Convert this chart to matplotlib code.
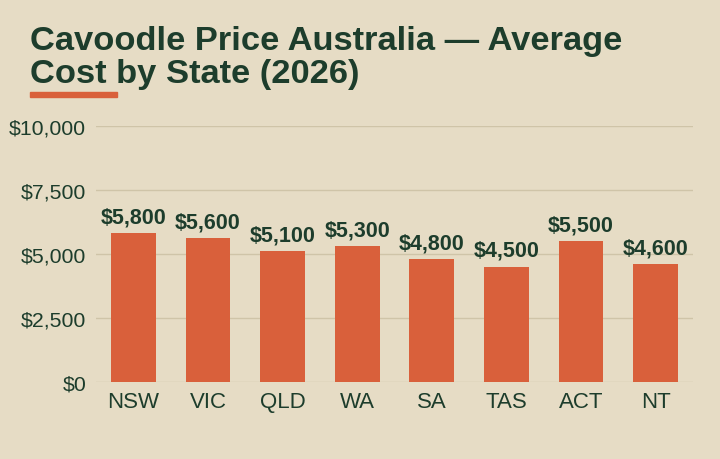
import matplotlib.pyplot as plt
from matplotlib.ticker import FuncFormatter

states = ['NSW', 'VIC', 'QLD', 'WA', 'SA', 'TAS', 'ACT', 'NT']
prices = [5800, 5600, 5100, 5300, 4800, 4500, 5500, 4600]
yticks = [0, 2500, 5000, 7500, 10000]

bg = '#e6dcc5'
green = '#1d3d2c'
orange = '#d9603b'
grid = '#cfc4a8'

plt.rcParams['font.family'] = ['Liberation Sans', 'DejaVu Sans']

fig = plt.figure(figsize=(7.2, 4.6), dpi=100, facecolor=bg)
ax = fig.add_axes([96 / 720, 1 - 382.5 / 460, 597 / 720, 255.5 / 460], facecolor=bg)

ax.bar(range(len(states)), prices, width=0.6, color=orange, zorder=3)
for i, v in enumerate(prices):
    ax.annotate('${:,}'.format(v), (i, v), xytext=(0, 4), textcoords='offset points',
                ha='center', va='bottom', fontsize=15.5, fontweight='bold', color=green)

ax.set_ylim(0, 10000)
ax.set_xlim(-0.5, 7.5)
ax.set_yticks(yticks)
ax.yaxis.set_major_formatter(FuncFormatter(lambda v, p: '${:,.0f}'.format(v)))
ax.set_xticks(range(len(states)))
ax.set_xticklabels(states)
ax.grid(axis='y', color=grid, linewidth=1, zorder=0)
ax.tick_params(axis='y', length=0, labelsize=15.3, colors=green, pad=7)
ax.tick_params(axis='x', length=0, labelsize=16, colors=green, pad=7)
for s in ax.spines.values():
    s.set_visible(False)

fig.text(30 / 720, 1 - 50 / 460, 'Cavoodle Price Australia \u2014 Average',
         fontsize=24.8, fontweight='bold', color=green, ha='left', va='baseline')
fig.text(30 / 720, 1 - 83 / 460, 'Cost by State (2026)',
         fontsize=24.8, fontweight='bold', color=green, ha='left', va='baseline')
fig.patches.append(plt.Rectangle((30 / 720, 1 - 97.5 / 460), 87 / 720, 4.5 / 460,
                                 transform=fig.transFigure, color=orange))

fig.savefig('out.png', dpi=100, facecolor=bg)
